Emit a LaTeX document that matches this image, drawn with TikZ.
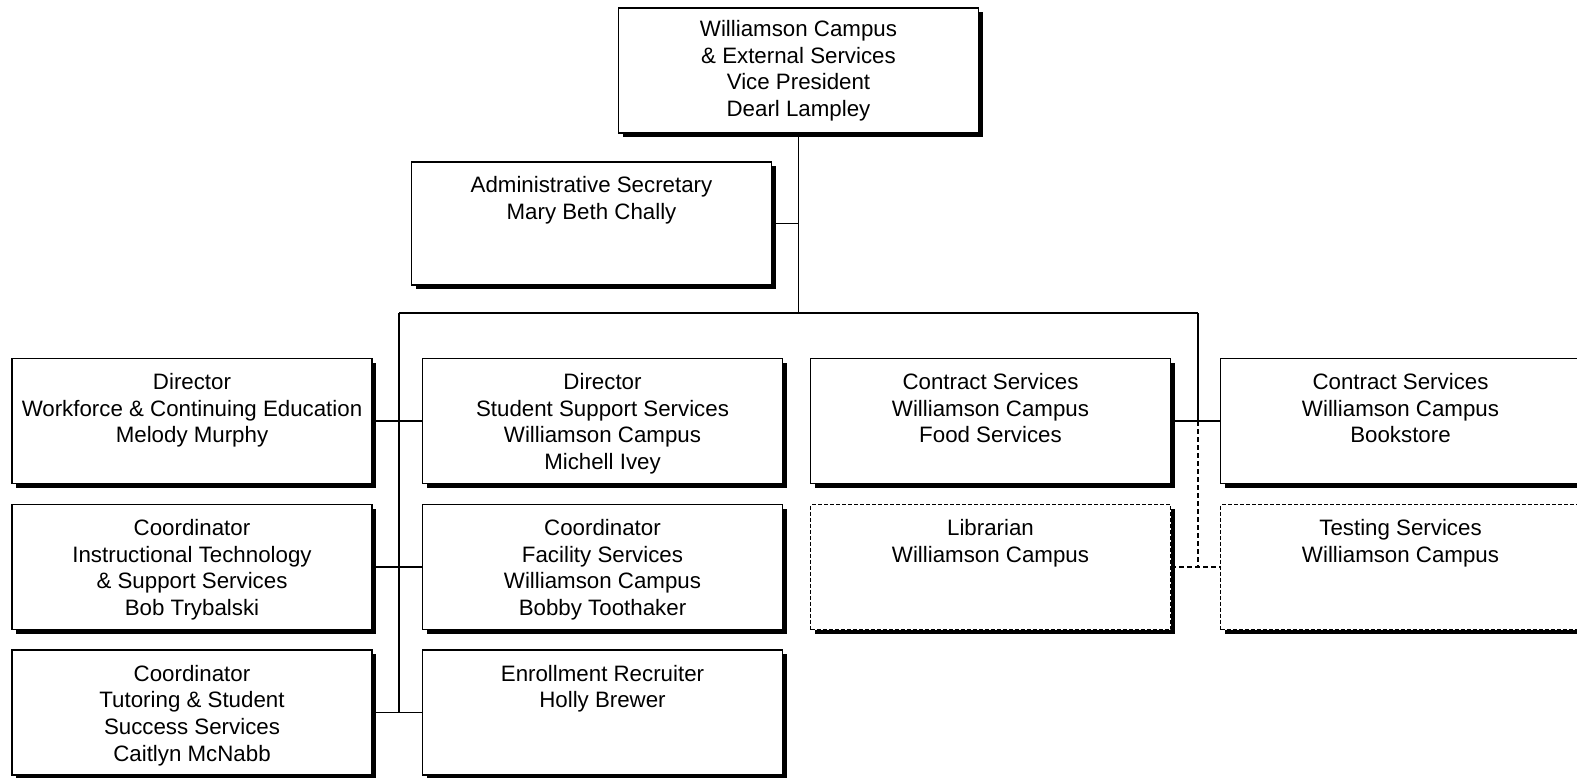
\documentclass[tikz,border=0pt]{standalone}
\usepackage{fontspec}
\setmainfont{Liberation Sans}
\usetikzlibrary{shadows}
\tikzset{
  orgbox/.style={draw=black, line width=1.3pt, fill=white, minimum width=360pt, minimum height=125pt, inner sep=0pt,
    drop shadow={shadow xshift=4pt, shadow yshift=-4pt, fill=black, opacity=1}},
  dashbox/.style={orgbox, dash pattern=on 4pt off 2pt, line width=1pt},
  boxtext/.style={anchor=north, align=center, inner sep=0pt, font=\fontsize{22.3}{26.6}\selectfont},
  link/.style={line width=1.3pt},
  dlink/.style={line width=1.3pt, dash pattern=on 5pt off 3pt},
}
\begin{document}
\begin{tikzpicture}[x=1pt,y=-1pt]
\useasboundingbox (0,0) rectangle (1577,778);
\clip (0,0) rectangle (1577,778);
% boxes
\node[orgbox] (vp) at (798.5,70.5) {};
\node[boxtext] (vpt) at ([yshift=-13pt]vp.north) {Williamson Campus\\\& External Services\\Vice President\\Dearl Lampley};
\node[orgbox, minimum height=123pt] (adm) at (591.5,223.5) {};
\node[boxtext] (admt) at ([yshift=-15pt]adm.north) {Administrative Secretary\\Mary Beth Chally};
% column 1
\node[orgbox] (w1) at (192,421) {};
\node[boxtext] (w1t) at ([yshift=-15.5pt]w1.north) {Director\\Workforce \& Continuing Education\\Melody Murphy};
\node[orgbox] (w2) at (192,567) {};
\node[boxtext] (w2t) at ([yshift=-15.5pt]w2.north) {Coordinator\\Instructional Technology\\\& Support Services\\Bob Trybalski};
\node[orgbox] (w3) at (192,712.5) {};
\node[boxtext] (w3t) at ([yshift=-15.5pt]w3.north) {Coordinator\\Tutoring \& Student\\Success Services\\Caitlyn McNabb};
% column 2
\node[orgbox] (s1) at (602.5,421) {};
\node[boxtext] (s1t) at ([yshift=-15.5pt]s1.north) {Director\\Student Support Services\\Williamson Campus\\Michell Ivey};
\node[orgbox] (s2) at (602.5,567) {};
\node[boxtext] (s2t) at ([yshift=-15.5pt]s2.north) {Coordinator\\Facility Services\\Williamson Campus\\Bobby Toothaker};
\node[orgbox] (s3) at (602.5,712.5) {};
\node[boxtext] (s3t) at ([yshift=-15.5pt]s3.north) {Enrollment Recruiter\\Holly Brewer};
% column 3
\node[orgbox] (f1) at (990.5,421) {};
\node[boxtext] (f1t) at ([yshift=-15.5pt]f1.north) {Contract Services\\Williamson Campus\\Food Services};
\node[dashbox] (l2) at (990.5,567) {};
\node[boxtext] (l2t) at ([yshift=-15.5pt]l2.north) {Librarian\\Williamson Campus};
% column 4
\node[orgbox] (b1) at (1400.5,421) {};
\node[boxtext] (b1t) at ([yshift=-15.5pt]b1.north) {Contract Services\\Williamson Campus\\Bookstore};
\node[dashbox] (t2) at (1400.5,567) {};
\node[boxtext] (t2t) at ([yshift=-15.5pt]t2.north) {Testing Services\\Williamson Campus};
% connectors
\coordinate (busL) at (399,313);
\coordinate (busR) at (1198,313);
\draw[link] (vp.south) -- (vp.south |- busL);
\draw[link] (adm.east) -- (adm.east -| vp.south);
\draw[link] (busL) -- (busR);
\draw[link] (busL) -- (busL |- w3.east);
\draw[link] (w1.east) -- (s1.west);
\draw[link] (w2.east) -- (s2.west);
\draw[link] (w3.east) -- (s3.west);
\draw[link] (busR) -- (busR |- f1.east);
\draw[link] (f1.east) -- (b1.west);
\draw[dlink] (busR |- f1.east) -- (busR |- l2.east);
\draw[dlink] (l2.east) -- (t2.west);
\end{tikzpicture}
\end{document}
